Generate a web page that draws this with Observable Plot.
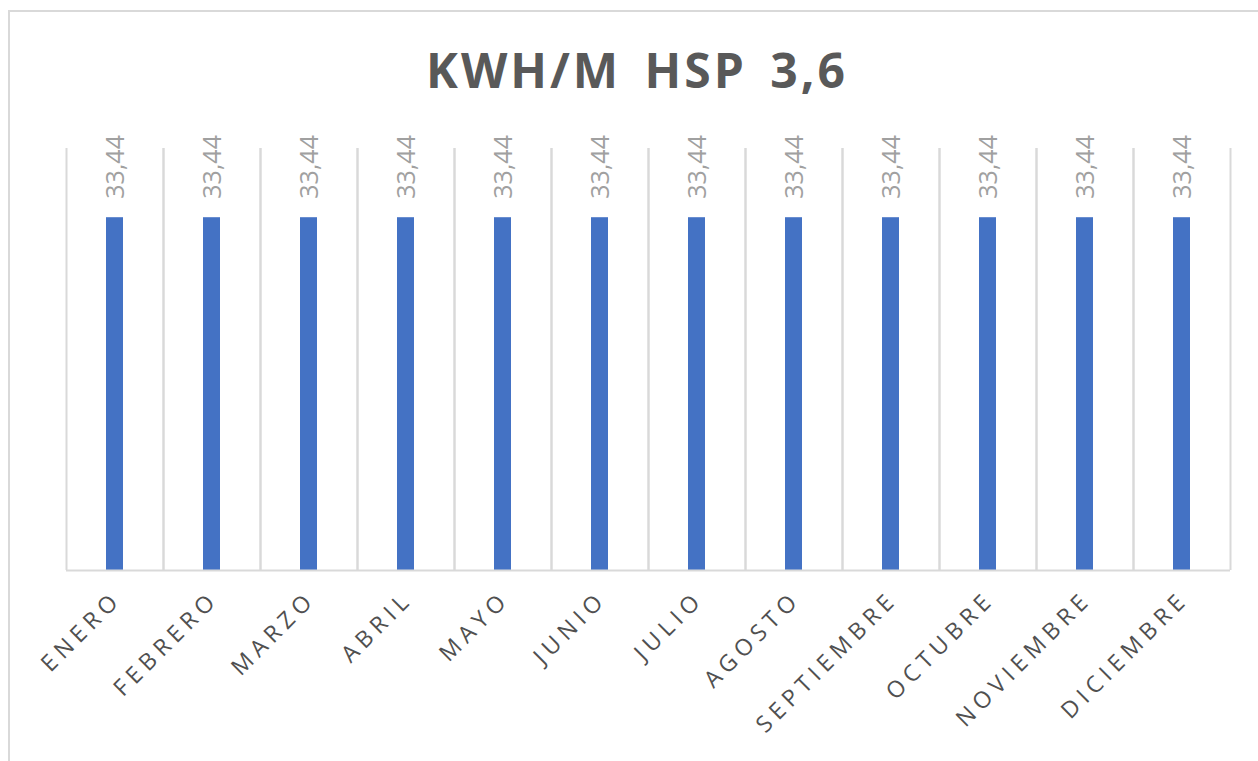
<!DOCTYPE html>
<html>
<head>
<meta charset="utf-8">
<script src="https://cdn.jsdelivr.net/npm/d3@7"></script>
<script src="https://cdn.jsdelivr.net/npm/@observablehq/plot@0.6"></script>
<style>
  html, body { margin: 0; padding: 0; background: #fff; width: 1258px; height: 761px; overflow: hidden; }
  #frame { position: absolute; left: 8px; top: 10px; width: 1400px; height: 900px;
           border-left: 2px solid #d9d9d9; border-top: 2px solid #d9d9d9; box-sizing: border-box; }
  #title { position: absolute; left: 8px; top: 40px; width: 1258px; text-align: center;
           font-family: "Open Sans", sans-serif; font-weight: 700; font-size: 48px; line-height: 60px;
           color: #595959; letter-spacing: 3px; word-spacing: 8px; }
  #chart { position: absolute; left: 0; top: 100px; }
</style>
</head>
<body>
<div id="frame"></div>
<div id="title">KWH/M HSP 3,6</div>
<div id="chart"></div>
<script>
const months = ["ENERO", "FEBRERO", "MARZO", "ABRIL", "MAYO", "JUNIO", "JULIO", "AGOSTO", "SEPTIEMBRE", "OCTUBRE", "NOVIEMBRE", "DICIEMBRE"];
const values = [33.44, 33.44, 33.44, 33.44, 33.44, 33.44, 33.44, 33.44, 33.44, 33.44, 33.44, 33.44];
const yDomain = [0, 40];

const data = months.map((m, i) => ({month: m, value: values[i]}));
const fmt = d3.formatLocale({decimal: ",", thousands: ".", grouping: [3], currency: ["", ""]}).format(".2f");

const plot = Plot.plot({
  width: 1258,
  height: 661,
  marginTop: 48,
  marginBottom: 191,
  marginLeft: 66,
  marginRight: 28,
  style: {fontFamily: "Open Sans, sans-serif", background: "transparent"},
  fx: {domain: months, padding: 0, axis: null},
  x: {domain: [0, 1], axis: null},
  y: {domain: yDomain, axis: null},
  marks: [
    Plot.ruleX([0, 1], {x: d => d, stroke: "#d9d9d9", strokeWidth: 2}),
    Plot.barY(data, {fx: "month", y: "value", fill: "#4472C4", insetLeft: 40, insetRight: 40}),
    Plot.ruleY([0], {stroke: "#d9d9d9", strokeWidth: 2}),
    Plot.text(data, {fx: "month", y: "value", text: d => fmt(d.value), rotate: -90, textAnchor: "start",
                     dy: -19, dx: 1, fill: "#a0a0a0", fontSize: 25}),
    Plot.text(data, {fx: "month", text: "month", frameAnchor: "bottom", rotate: -45, textAnchor: "end",
                     dy: 30, dx: 8, fill: "#505050", fontSize: 23})
  ]
});
d3.select(plot).selectAll("text").filter(function() { return months.includes(this.textContent); })
  .style("letter-spacing", "5.5px");
document.getElementById("chart").append(plot);
</script>
</body>
</html>
